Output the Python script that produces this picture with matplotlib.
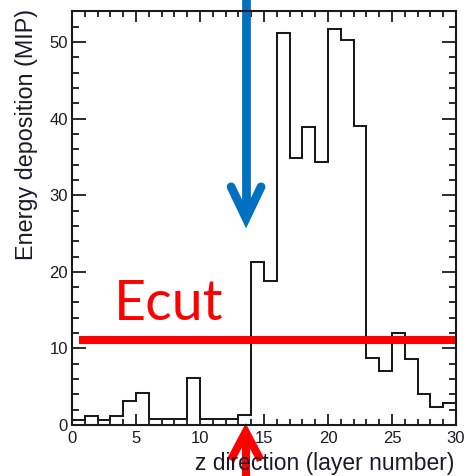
import numpy as np
import matplotlib.pyplot as plt
from matplotlib.ticker import MultipleLocator

# layer edges and energy per layer (MIP)
layer_edges = np.arange(0, 31)
energy = [0.61, 1.14, 0.61, 1.14, 3.17, 4.14, 0.82, 0.82, 0.82, 6.1,
          0.82, 0.82, 0.82, 1.3, 21.3, 18.8, 51.25, 34.9, 38.85, 34.3,
          51.7, 50.3, 39.1, 8.8, 7.05, 12.0, 8.6, 4.1, 2.35, 2.9]

ecut = 11.07
ecut_span = [0.55, 30.0]
shower_start = 13.6

plt.rcParams['font.family'] = ['Liberation Sans', 'DejaVu Sans']

fig = plt.figure(figsize=(4.72, 4.76), dpi=100)
ax = fig.add_axes([72 / 472, 51 / 476, 384 / 472, 414.3 / 476])

ax.stairs(energy, layer_edges, baseline=0, fill=False, color='#1a1a1a', lw=1.45)

ax.set_xlim(0, 30)
ax.set_ylim(0, 54.1)
ax.xaxis.set_major_locator(MultipleLocator(5))
ax.xaxis.set_minor_locator(MultipleLocator(1))
ax.yaxis.set_major_locator(MultipleLocator(10))
ax.yaxis.set_minor_locator(MultipleLocator(2))
ax.tick_params(axis='both', which='both', direction='in', top=True, right=True,
               width=1.3, color='#1a1a1a', labelsize=12, labelcolor='#1a1a2a')
ax.tick_params(axis='x', which='major', length=8, pad=4)
ax.tick_params(axis='x', which='minor', length=4.3)
ax.tick_params(axis='y', which='major', length=10, pad=3)
ax.tick_params(axis='y', which='minor', length=5)
for s in ax.spines.values():
    s.set_linewidth(1.5)
    s.set_color('#1a1a1a')

fig.text(454 / 472, 6 / 476, 'z direction (layer number)', ha='right', va='baseline',
         fontsize=16.5, color='#1a1a2a')
fig.text(27 / 472, 0.7174, 'Energy deposition (MIP)', rotation=90, ha='center', va='center',
         fontsize=16.8, color='#1a1a2a')

# Ecut line and label
ax.plot(ecut_span, [ecut, ecut], color='#ff0000', lw=5.8, solid_capstyle='butt', clip_on=False)
ax.text(3.3, 13.7, 'Ecut', color='#ff0000', fontsize=40, family=['Lato', 'DejaVu Sans'],
        ha='left', va='baseline')

# blue arrow from the top
ax.plot([shower_start, shower_start], [56, 27.4], color='#0070c0', lw=6.3,
        solid_capstyle='butt', clip_on=False)
ax.plot([shower_start - 1.17, shower_start, shower_start + 1.17], [31.1, 27.0, 31.1],
        color='#0070c0', lw=6.3, solid_capstyle='round', solid_joinstyle='miter', clip_on=False)

# red arrow from the bottom
xr = 13.57
ax.plot([xr, xr], [-7, -1.3], color='#ff0000', lw=5.8, solid_capstyle='butt', clip_on=False)
ax.plot([xr - 1.17, xr, xr + 1.17], [-4.6, -0.9, -4.6], color='#ff0000', lw=5.8,
        solid_capstyle='butt', solid_joinstyle='miter', clip_on=False)

fig.savefig('out.png', dpi=100)
